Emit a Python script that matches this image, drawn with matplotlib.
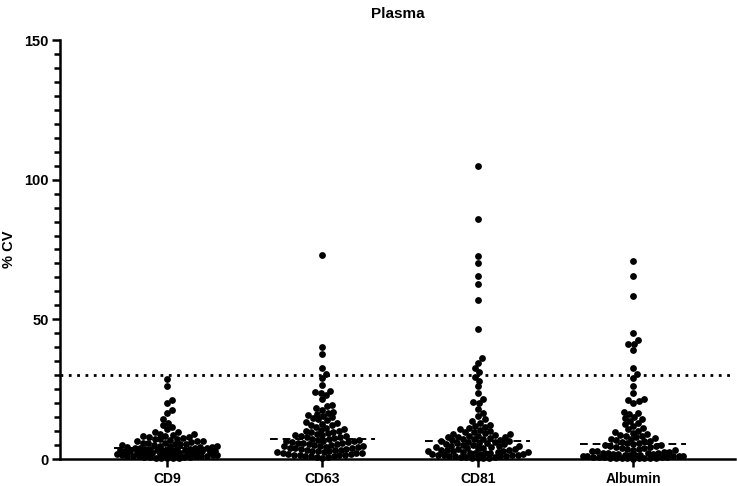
import numpy as np
import matplotlib
matplotlib.use("Agg")
import matplotlib.pyplot as plt
from matplotlib.ticker import MultipleLocator

plt.rcParams['font.family'] = ['Liberation Sans', 'DejaVu Sans']
plt.rcParams['font.weight'] = 'bold'

# categories and %CV values
categories = ['CD9', 'CD63', 'CD81', 'Albumin']

cd9 = [28.5, 26.0, 21.0, 20.0, 17.5, 16.5, 14.2, 13.0,
       12.0, 11.4, 10.6,
       9.8, 9.5, 9.1, 8.8, 8.6, 8.3, 8.1,
       7.9, 7.7, 7.5, 7.3, 7.1, 7.0, 6.8, 6.6, 6.5, 6.3, 6.1,
       5.9, 5.8, 5.6, 5.5, 5.3, 5.2, 5.0, 4.9, 4.8, 4.7, 4.5, 4.4, 4.3, 4.2, 4.1, 4.0,
       3.9, 3.8, 3.7, 3.7, 3.6, 3.5, 3.4, 3.3, 3.2, 3.2, 3.1, 3.0, 2.9, 2.8, 2.8, 2.7,
       2.6, 2.5, 2.4, 2.3, 2.3, 2.2, 2.1, 2.0,
       1.9, 1.8, 1.8, 1.7, 1.6, 1.5, 1.5, 1.4, 1.3, 1.2, 1.2, 1.1, 1.0, 0.9, 0.9, 0.8,
       0.7, 0.6, 0.6, 0.5, 0.4, 0.3, 0.2, 0.2]

cd63 = [73.0, 40.0, 37.5, 32.5, 30.5, 29.0, 26.5,
        24.5, 24.0, 23.5, 23.0, 21.5,
        19.5, 18.8, 18.2,
        17.6, 17.0, 16.6, 16.2,
        15.8, 15.3, 15.0, 14.6, 14.2,
        13.8, 13.4, 13.0, 12.7, 12.3, 12.0,
        11.6, 11.2, 10.9, 10.5, 10.2, 10.0,
        9.8, 9.5, 9.2, 9.0, 8.7, 8.5, 8.3, 8.1,
        7.9, 7.7, 7.5, 7.3, 7.1, 6.9, 6.8, 6.6, 6.5, 6.3, 6.2, 6.0,
        5.9, 5.7, 5.6, 5.4, 5.3, 5.1, 5.0, 4.8, 4.7, 4.6, 4.4, 4.3, 4.1, 4.0,
        3.9, 3.7, 3.6, 3.4, 3.3, 3.1, 3.0, 2.9, 2.7, 2.6, 2.5, 2.3, 2.2, 2.0,
        1.9, 1.7, 1.6, 1.5, 1.4, 1.3, 1.1, 1.0, 0.9, 0.8, 0.7, 0.5]

cd81 = [105.0, 86.0, 72.5, 70.0, 65.5, 62.5, 57.0, 46.5, 36.0, 34.5, 32.5, 31.0, 29.5,
        28.0, 26.0, 23.5, 21.5, 20.5, 20.0,
        18.0, 16.5, 15.5, 14.2,
        13.5, 12.8, 12.2,
        11.8, 11.4, 11.0, 10.7, 10.4, 10.1,
        9.8, 9.5, 9.2, 9.0, 8.8, 8.6, 8.4, 8.2, 8.0,
        7.9, 7.7, 7.5, 7.3, 7.2, 7.0, 6.8, 6.7, 6.5, 6.4, 6.2, 6.0,
        5.9, 5.7, 5.6, 5.4, 5.3, 5.1, 5.0, 4.8, 4.7, 4.5, 4.4, 4.3, 4.1, 4.0,
        3.9, 3.7, 3.6, 3.4, 3.3, 3.1, 3.0, 2.9, 2.7, 2.6, 2.5, 2.4, 2.3, 2.2, 2.1, 2.0,
        1.9, 1.8, 1.7, 1.6, 1.5, 1.4, 1.3, 1.2, 1.1, 1.0, 0.9, 0.8, 0.7, 0.6, 0.5, 0.4,
        0.3, 0.2]

albumin = [71.0, 65.5, 58.5, 45.0, 42.5, 41.0, 41.0, 39.0, 32.5, 30.5, 29.0, 26.0, 23.5,
           21.5, 21.0, 20.6, 20.2,
           17.0, 16.6, 16.2, 15.2, 14.6, 14.2,
           13.6, 13.0, 12.4, 11.8, 11.2, 10.6, 10.2,
           9.7, 9.3, 9.0, 8.7, 8.4, 8.1,
           7.8, 7.5, 7.3, 7.0, 6.8, 6.5, 6.3, 6.1,
           5.8, 5.6, 5.4, 5.1, 4.9, 4.7, 4.5, 4.3, 4.2, 4.0,
           3.8, 3.6, 3.5, 3.3, 3.1, 2.9, 2.8, 2.6, 2.5, 2.3, 2.2, 2.1, 2.0,
           1.9, 1.8, 1.7, 1.6, 1.5, 1.4, 1.3, 1.2, 1.1, 1.0, 1.0, 0.9, 0.8, 0.8, 0.7, 0.6,
           0.6, 0.5, 0.5, 0.4, 0.4, 0.3, 0.3, 0.2, 0.2, 0.1]

series = [cd9, cd63, cd81, albumin]
cutoff = 30


def swarm(ypix, d, wmax):
    # greedy beeswarm; when no free spot is left within wmax,
    # drop the point where it overlaps least (like Prism does)
    order = np.argsort(ypix)
    xs = np.zeros(len(ypix))
    placed = []
    grid = np.linspace(-wmax, wmax, 41)
    for i in order:
        y = ypix[i]
        cands = [0.0]
        for x0, y0 in placed:
            dy = y - y0
            if abs(dy) < d:
                dx = np.sqrt(d * d - dy * dy)
                cands += [x0 + dx, x0 - dx]
        cands = sorted([c for c in cands if abs(c) <= wmax], key=abs)
        found = False
        for c in cands:
            ok = True
            for x0, y0 in placed:
                if (c - x0) ** 2 + (y - y0) ** 2 < d * d - 1e-6:
                    ok = False
                    break
            if ok:
                xs[i] = c
                found = True
                break
        if not found:
            pts = np.array(placed)
            dist = np.array([np.min((g - pts[:, 0]) ** 2 + (y - pts[:, 1]) ** 2) for g in grid])
            xs[i] = grid[np.argmax(dist - 1e-3 * np.abs(grid))]
        placed.append((xs[i], y))
    return xs


fig = plt.figure(figsize=(7.37, 4.86), dpi=100)
ax = fig.add_axes([60 / 737, 1 - 459 / 486, 675 / 737, 419 / 486])
ax.set_xlim(-0.69, 3.657)
ax.set_ylim(0, 150)

# pixel scale of the axes
bbox = ax.get_window_extent()
px_y = bbox.height / 150.0
px_x = bbox.width / (3.657 + 0.69)

dot = 6.5
for i, vals in enumerate(series):
    v = np.array(vals)
    offs = swarm(v * px_y, dot * 0.88, 50) / px_x
    ax.scatter(i + offs, v, s=24, color='black', linewidths=0, zorder=3, clip_on=False)
    med = np.median(v)
    ax.plot([i - 0.34, i + 0.34], [med, med], color='black', lw=1.4,
            linestyle=(0, (4, 2.5)), zorder=4)

ax.axhline(cutoff, color='black', lw=2, linestyle=(0, (1, 2)), zorder=2)

for s in ['top', 'right']:
    ax.spines[s].set_visible(False)
for s in ['left', 'bottom']:
    ax.spines[s].set_linewidth(1.8)

ax.set_xticks(range(len(categories)))
ax.set_xticklabels(categories, fontsize=10, fontweight='bold')
ax.yaxis.set_major_locator(MultipleLocator(50))
ax.yaxis.set_minor_locator(MultipleLocator(5))
ax.tick_params(axis='y', which='major', length=6, width=1.8, labelsize=10.5, pad=2)
ax.tick_params(axis='y', which='minor', length=4, width=1.8)
ax.tick_params(axis='x', which='major', length=6, width=1.8, labelsize=10, pad=3)
for lab in ax.get_yticklabels():
    lab.set_fontweight('bold')

ax.set_ylabel('% CV', fontsize=10.5, fontweight='bold', labelpad=6)
ax.set_title('Plasma', fontsize=11, fontweight='bold', pad=16)

fig.savefig('out.png', dpi=100)
